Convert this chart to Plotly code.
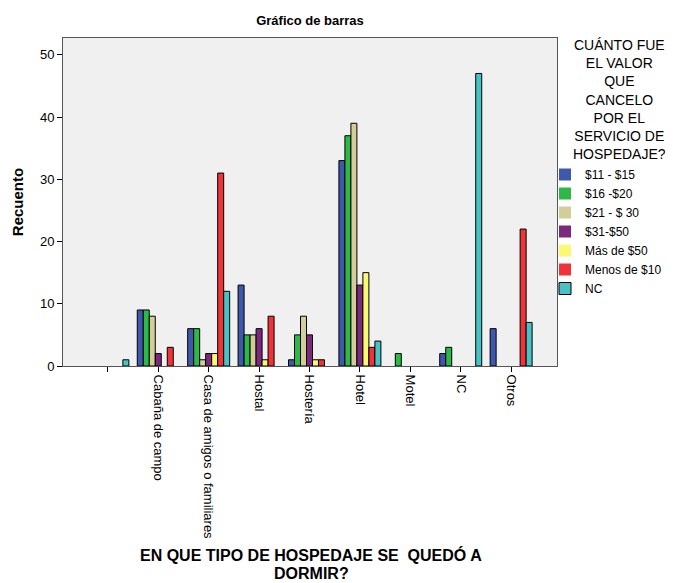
import plotly.graph_objects as go

categorias = ["", "Cabaña de campo", "Casa de amigos o familiares", "Hostal",
              "Hostería", "Hotel", "Motel", "NC", "Otros"]

v_11_15 = [0, 9, 6, 13, 1, 33, 0, 2, 6]
v_16_20 = [0, 9, 6, 5, 5, 37, 2, 3, 0]
v_21_30 = [0, 8, 1, 5, 8, 39, 0, 0, 0]
v_31_50 = [0, 2, 2, 6, 5, 13, 0, 0, 0]
v_mas_50 = [0, 0, 2, 1, 1, 15, 0, 0, 0]
v_menos_10 = [0, 3, 31, 8, 1, 3, 0, 0, 22]
v_nc = [1, 0, 12, 0, 0, 4, 0, 47, 7]

series = [
    ("$11 - $15", v_11_15, "#3E58AC"),
    ("$16 -$20", v_16_20, "#2EB848"),
    ("$21 - $ 30", v_21_30, "#D3CE97"),
    ("$31-$50", v_31_50, "#7C287D"),
    ("Más de $50", v_mas_50, "#FBF873"),
    ("Menos de $10", v_menos_10, "#EF3338"),
    ("NC", v_nc, "#48C2C5"),
]

FONT = "Arial, Liberation Sans, sans-serif"

# the page body adds an 8px margin, so the figure is 8px smaller
W, H = 665, 575
L, R, T, B = 55, 116, 30, 217
PW, PH = W - L - R, H - T - B


def py(page_y):
    # page pixel y -> paper y
    return (PH + T + 8 - page_y) / PH


def px(page_x):
    return (page_x - 8 - L) / PW


fig = go.Figure()
for name, vals, color in series:
    fig.add_trace(go.Bar(
        x=categorias, y=vals, name=name,
        marker=dict(color=color,
                    line=dict(color="#000000", width=[1 if v > 0 else 0 for v in vals])),
    ))

fig.update_layout(
    width=W, height=H,
    margin=dict(l=L, r=R, t=T, b=B, autoexpand=False),
    paper_bgcolor="white",
    plot_bgcolor="#F0F0F0",
    barmode="group",
    bargap=0.167,
    bargroupgap=0,
    font=dict(family=FONT, size=13, color="#000000"),
    title=dict(text="<b>Gráfico de barras</b>", x=0.5, xref="paper", xanchor="center",
               y=1 - 12 / H, yanchor="middle", font=dict(size=13)),
    showlegend=True,
    legend=dict(x=px(545), xanchor="left", y=py(160), yanchor="top",
                font=dict(size=12), itemwidth=30, bgcolor="rgba(0,0,0,0)",
                tracegroupgap=0),
    xaxis=dict(type="category", range=[-0.89, 8.91], tickangle=90,
               ticks="outside", ticklen=5, tickcolor="#000000",
               showline=True, linecolor="#555555", linewidth=1, mirror=True,
               showgrid=False, tickfont=dict(size=13)),
    yaxis=dict(range=[0, 52.7], tickvals=[0, 10, 20, 30, 40, 50],
               ticks="outside", ticklen=5, tickcolor="#000000",
               showline=True, linecolor="#555555", linewidth=1, mirror=True,
               showgrid=False, zeroline=False, tickfont=dict(size=13),
               title=dict(text="<b>Recuento</b>", font=dict(size=15), standoff=12)),
)

fig.add_annotation(
    text="CUÁNTO FUE<br>EL VALOR<br>QUE<br>CANCELO<br>POR EL<br>SERVICIO DE<br>HOSPEDAJE?",
    xref="paper", yref="paper", x=px(619), y=py(100),
    xanchor="center", yanchor="middle", align="center", showarrow=False,
    font=dict(size=14, family=FONT),
)

for texto, yy in [("<b>EN QUE TIPO DE HOSPEDAJE SE  QUEDÓ A</b>", 555),
                  ("<b>DORMIR?</b>", 573)]:
    fig.add_annotation(
        text=texto, xref="paper", yref="paper", x=px(311), y=py(yy),
        xanchor="center", yanchor="middle", align="center", showarrow=False,
        font=dict(size=16, family=FONT),
    )

fig.write_html("out.html")
